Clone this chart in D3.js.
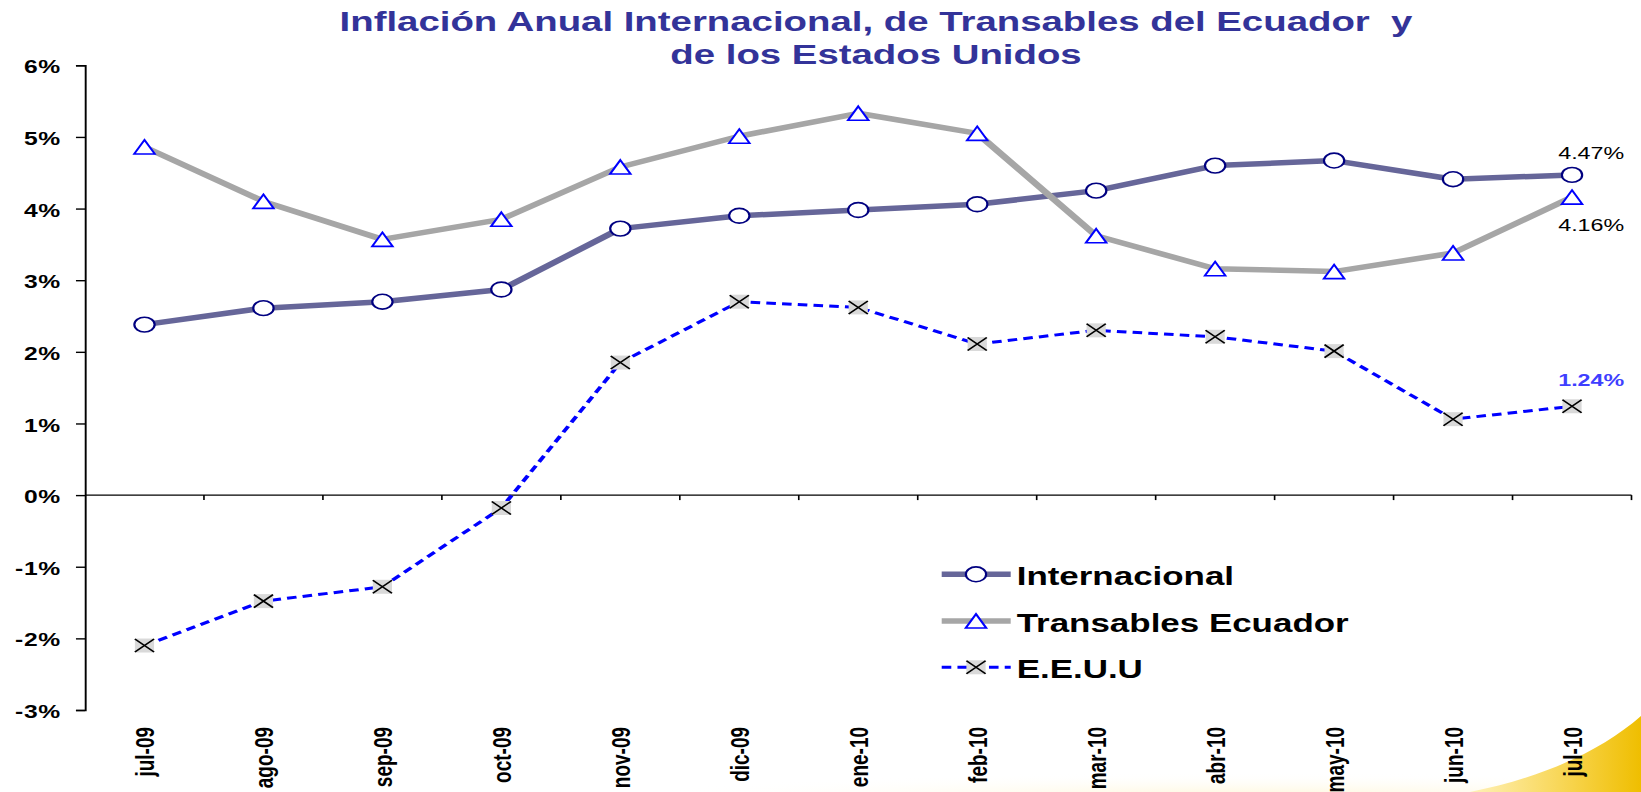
<!DOCTYPE html>
<meta charset="utf-8">
<head>
    <title>Inflación Anual Internacional, de Transables del Ecuador y de los Estados Unidos</title>
    <script src="https://d3js.org/d3.v7.min.js"></script>
    <style>
        body { margin: 0; background: #fff; overflow: hidden; }
        text { font-family: "Liberation Sans", Arial, Helvetica, sans-serif; }
    </style>
</head>

<body>
    <div id="svg-container"></div>
</body>

<script>

const width = 1641;
const height = 792;
// the slide picture is stretched sideways, so we draw in a narrower box and let the viewBox stretch it
const stretch = 1.37;
const vbWidth = width / stretch;

const months = ["jul-09", "ago-09", "sep-09", "oct-09", "nov-09", "dic-09", "ene-10",
                "feb-10", "mar-10", "abr-10", "may-10", "jun-10", "jul-10"];

const internacional = [2.38, 2.61, 2.70, 2.87, 3.72, 3.90, 3.98, 4.06, 4.25, 4.60, 4.67, 4.41, 4.47];
const transables    = [4.86, 4.10, 3.57, 3.85, 4.58, 5.01, 5.33, 5.05, 3.62, 3.16, 3.12, 3.38, 4.16];
const eeuu          = [-2.10, -1.48, -1.28, -0.18, 1.85, 2.70, 2.62, 2.11, 2.30, 2.21, 2.01, 1.06, 1.24];

const yTicks = [-3, -2, -1, 0, 1, 2, 3, 4, 5, 6];

const titleLines = ["Inflación Anual Internacional, de Transables del Ecuador  y",
                    "de los Estados Unidos"];

const series = [
    { name: "Internacional", values: internacional, color: "#666699", width: 5.5, dash: null, marker: "circle" },
    { name: "Transables Ecuador", values: transables, color: "#A6A6A6", width: 5.5, dash: null, marker: "triangle" },
    { name: "E.E.U.U", values: eeuu, color: "#0000FF", width: 3, dash: "7,4.5", marker: "cross" }
];

const x = d3.scaleBand()
            .domain(months)
            .range([85 / stretch, 1631.5 / stretch]);

const y = d3.scaleLinear()
            .domain([-3, 6])
            .range([710, 65.3]);

const cx = function(i) { return x(months[i]) + x.bandwidth() / 2; };

const svg = d3.select("#svg-container")
              .append("svg")
                .attr("width", width)
                .attr("height", height)
                .attr("viewBox", `0 0 ${vbWidth} ${height}`)
                .attr("preserveAspectRatio", "none")
                .style("display", "block");

drawBackground();
drawTitle();
drawAxes();
series.forEach(drawSeries);
drawEndLabels();
drawLegend();

function drawBackground() {
    const defs = svg.append("defs");
    const grad = defs.append("linearGradient")
                        .attr("id", "swoosh")
                        .attr("x1", 0).attr("x2", 1).attr("y1", 0).attr("y2", 0);
    grad.append("stop").attr("offset", 0).attr("stop-color", "#FFF1B8");
    grad.append("stop").attr("offset", 0.6).attr("stop-color", "#F7D34A");
    grad.append("stop").attr("offset", 1).attr("stop-color", "#EFBE00");

    const haze = defs.append("radialGradient").attr("id", "haze");
    haze.append("stop").attr("offset", 0).attr("stop-color", "#FFF3C8").attr("stop-opacity", 0.9);
    haze.append("stop").attr("offset", 1).attr("stop-color", "#FFFFFF").attr("stop-opacity", 0);

    // decoration in plain pixels
    const deco = svg.append("g").attr("transform", `scale(${1 / stretch},1)`);
    deco.append("ellipse")
        .attr("cx", 1250).attr("cy", 800).attr("rx", 650).attr("ry", 28)
        .attr("fill", "url(#haze)");
    deco.append("path")
        .attr("d", "M1470,792 C1540,778 1600,752 1641,716 L1641,792 Z")
        .attr("fill", "url(#swoosh)");
}

function drawTitle() {
    svg.append("text")
        .attr("x", 876 / stretch)
        .attr("text-anchor", "middle")
        .attr("fill", "#333399")
        .style("font-size", "28px")
        .style("font-weight", "bold")
        .style("white-space", "pre")
        .selectAll("tspan")
        .data(titleLines).enter()
        .append("tspan")
            .attr("x", 876 / stretch)
            .attr("y", function(d, i) { return 31 + i * 33; })
            .text(function(d) { return d; });
}

function drawAxes() {
    const yAxis = svg.append("g")
                    .attr("transform", `translate(${x.range()[0]},0)`)
                    .call(d3.axisLeft(y)
                            .tickValues(yTicks)
                            .tickSize(6.6)
                            .tickPadding(11)
                            .tickFormat(function(d) { return d + "%"; }));
    yAxis.select(".domain").attr("stroke", "#000").attr("stroke-width", 1.4);
    yAxis.selectAll(".tick line").attr("stroke", "#000").attr("stroke-width", 1.4);
    yAxis.selectAll(".tick text")
            .attr("fill", "#000")
            .attr("dy", "0.42em")
            .style("font-size", "18px")
            .style("font-weight", "bold")
            .style("letter-spacing", "0.5px")
            .style("font-family", "'Liberation Sans', Arial, sans-serif");

    // category axis sits on the 0% line, ticks between categories
    const xAxis = svg.append("g");
    xAxis.append("line")
        .attr("x1", x.range()[0]).attr("x2", x.range()[1])
        .attr("y1", y(0)).attr("y2", y(0))
        .attr("stroke", "#000").attr("stroke-width", 1.4);
    xAxis.selectAll(".xtick")
        .data(months).enter()
        .append("line")
            .attr("class", "xtick")
            .attr("x1", function(d) { return x(d) + x.bandwidth(); })
            .attr("x2", function(d) { return x(d) + x.bandwidth(); })
            .attr("y1", y(0)).attr("y2", y(0) + 5)
            .attr("stroke", "#000").attr("stroke-width", 1.2);

    svg.append("g")
        .selectAll("text")
        .data(months).enter()
        .append("text")
            .attr("transform", function(d) { return `translate(${x(d) + x.bandwidth() / 2},727) rotate(-90)`; })
            .attr("text-anchor", "end")
            .attr("dy", "0.38em")
            .attr("fill", "#000")
            .style("font-size", "19px")
            .style("font-weight", "bold")
            .text(function(d) { return d; });
}

function markerShape(g, type) {
    if (type === "circle") {
        g.append("circle")
            .attr("r", 7.4)
            .attr("fill", "#fff")
            .attr("stroke", "#000080")
            .attr("stroke-width", 1.6);
    } else if (type === "triangle") {
        g.append("path")
            .attr("d", "M0,-7 L7.5,7 L-7.5,7 Z")
            .attr("fill", "#fff")
            .attr("stroke", "#0000FF")
            .attr("stroke-width", 1.6);
    } else {
        g.append("rect")
            .attr("x", -7).attr("y", -7)
            .attr("width", 14).attr("height", 14)
            .attr("fill", "#D9D9D9");
        g.append("path")
            .attr("d", "M-7,-6.5 L7,6.5 M-7,6.5 L7,-6.5")
            .attr("stroke", "#000")
            .attr("stroke-width", 1.4)
            .attr("fill", "none");
    }
}

function drawSeries(s) {
    const line = d3.line()
                    .x(function(d, i) { return cx(i); })
                    .y(function(d) { return y(d); });

    svg.append("path")
        .datum(s.values)
        .attr("d", line)
        .attr("fill", "none")
        .attr("stroke", s.color)
        .attr("stroke-width", s.width)
        .attr("stroke-linejoin", "round")
        .attr("stroke-dasharray", s.dash);

    svg.append("g")
        .selectAll("g")
        .data(s.values).enter()
        .append("g")
            .attr("transform", function(d, i) { return `translate(${cx(i)},${y(d)})`; })
            .each(function() { markerShape(d3.select(this), s.marker); });
}

function drawEndLabels() {
    const last = months.length - 1;
    const lx = cx(last) + 14;
    const fmt = function(v) { return v.toFixed(2) + "%"; };

    const labels = [
        { value: internacional[last], dy: -16, color: "#000", weight: "normal" },
        { value: transables[last], dy: 34, color: "#000", weight: "normal" },
        { value: eeuu[last], dy: -20, color: "#3F3FFF", weight: "bold" }
    ];

    svg.append("g")
        .selectAll("text")
        .data(labels).enter()
        .append("text")
            .attr("x", lx)
            .attr("y", function(d) { return y(d.value) + d.dy; })
            .attr("text-anchor", "middle")
            .attr("fill", function(d) { return d.color; })
            .style("font-size", "17px")
            .style("font-weight", function(d) { return d.weight; })
            .text(function(d) { return fmt(d.value); });
}

function drawLegend() {
    const left = 941.7 / stretch;
    const right = 1010.7 / stretch;
    const mid = 976 / stretch;
    const rows = [574.3, 621, 667.3];

    const items = svg.append("g")
                    .selectAll("g")
                    .data(series).enter()
                    .append("g")
                        .attr("transform", function(d, i) { return `translate(0,${rows[i]})`; });

    items.append("line")
        .attr("x1", left).attr("x2", right)
        .attr("stroke", function(d) { return d.color; })
        .attr("stroke-width", function(d) { return d.width; })
        .attr("stroke-dasharray", function(d) { return d.dash; });

    items.append("g")
        .attr("transform", `translate(${mid},0)`)
        .each(function(d) { markerShape(d3.select(this), d.marker); });

    items.append("text")
        .attr("x", 1016.7 / stretch)
        .attr("dy", "0.42em")
        .attr("fill", "#000")
        .style("font-size", "25.5px")
        .style("font-weight", "bold")
        .text(function(d) { return d.name; });
}
</script>
